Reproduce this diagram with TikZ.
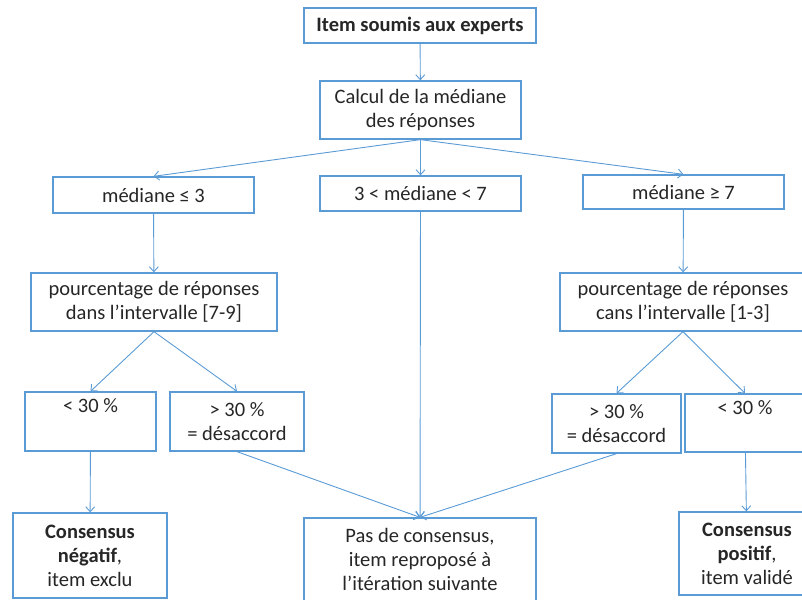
\documentclass[tikz,border=0pt]{standalone}
\usepackage{fontspec}
\setmainfont{Carlito}
\usetikzlibrary{arrows.meta}
\definecolor{boxblue}{RGB}{91,155,213}
\begin{document}
\begin{tikzpicture}[x=1pt, y=-1pt,
                    box/.style = {draw=boxblue, line width=1.3pt, align=center,
                            inner sep=0pt, text=black!85,
                            font=\fontsize{20.5}{24}\selectfont},
                    arr/.style = {draw=boxblue, line width=0.9pt,
                            -{Straight Barb[length=5pt,width=9pt]}}]
\useasboundingbox (0,0) rectangle (802,599);
% haut
\node[box, minimum width=232, minimum height=35] (item) at (420,25.5) {\textbf{Item soumis aux experts}};
\node[box, minimum width=201, minimum height=58] (calcul) at (420.5,110) {Calcul de la médiane\\des réponses};
% mediane
\node[box, minimum width=201, minimum height=36] (medbas) at (153.5,195) {médiane ≤ 3};
\node[box, minimum width=201, minimum height=35] (medmil) at (420.5,193.5) {3 < médiane < 7};
\node[box, minimum width=201, minimum height=34] (medhaut) at (683.5,192) {médiane ≥ 7};
% pourcentages
\node[box, minimum width=246, minimum height=58] (pctg) at (154,302) {pourcentage de réponses\\dans l’intervalle [7-9]};
\node[box, minimum width=246, minimum height=58] (pctd) at (683,302) {pourcentage de réponses\\cans l’intervalle [1-3]};
\node[box, minimum width=131, minimum height=59] (moinsg) at (90.5,421.5) {< 30 \%\\\strut};
\node[box, minimum width=134, minimum height=59] (plusg) at (237,421.5) {> 30 \%\\= désaccord};
\node[box, minimum width=129, minimum height=59] (plusd) at (616.5,423.5) {> 30 \%\\= désaccord};
\node[box, minimum width=120, minimum height=58] (moinsd) at (745,423) {< 30 \%\\\strut};
% resultats
\node[box, minimum width=154, minimum height=85] (negatif) at (90,555.5) {\textbf{Consensus}\\\textbf{négatif},\\item exclu};
\node[box, minimum width=232, minimum height=83] (pas) at (420,559.5) {Pas de consensus,\\item reproposé à\\l’itération suivante};
\node[box, minimum width=136, minimum height=83] (positif) at (747,553.5) {\textbf{Consensus}\\\textbf{positif},\\item validé};
% fleches
\draw[arr] (item) -- (calcul);
\draw[arr] (calcul.south) -- (medbas.north);
\draw[arr] (calcul) -- (medmil);
\draw[arr] (calcul.south) -- (medhaut.north);
\draw[arr] (medbas) -- (pctg);
\draw[arr] (medhaut) -- (pctd);
\draw[arr] (medmil) -- (pas);
\draw[arr] (pctg.south) -- (moinsg.north);
\draw[arr] (pctg.south) -- (plusg.north);
\draw[arr] (pctd.south) -- (plusd.north);
\draw[arr] (pctd.south) -- (moinsd.north);
\draw[arr] (moinsg) -- (negatif);
\draw[arr] (plusg.south) -- (pas.north);
\draw[arr] (plusd.south) -- (pas.north);
\draw[arr] (moinsd) -- (positif);
\end{tikzpicture}
\end{document}
